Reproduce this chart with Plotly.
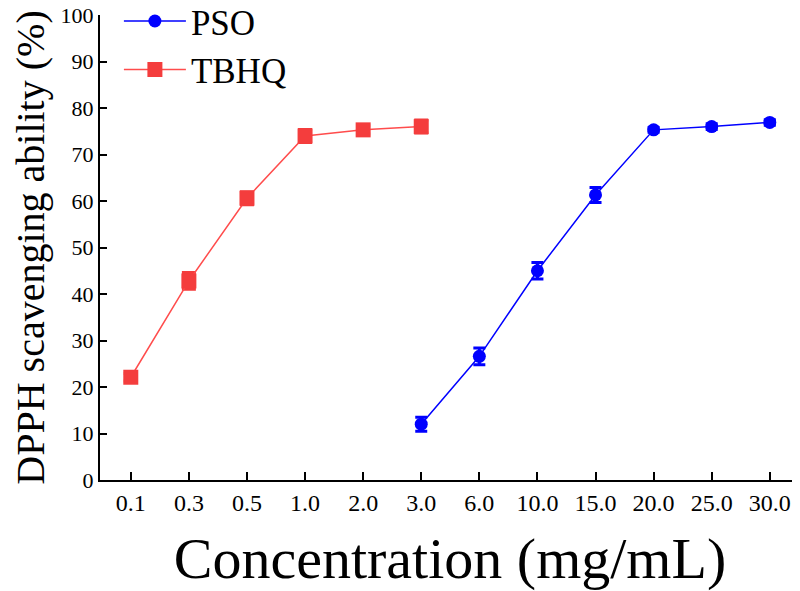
import plotly.graph_objects as go

categories = ["0.1", "0.3", "0.5", "1.0", "2.0", "3.0", "6.0", "10.0", "15.0", "20.0", "25.0", "30.0"]

tbhq_x = ["0.1", "0.3", "0.5", "1.0", "2.0", "3.0"]
tbhq_y = [22.1, 42.8, 60.6, 74.0, 75.3, 76.0]
tbhq_err = [0.8, 1.8, 1.4, 1.4, 0.9, 1.4]

pso_x = ["3.0", "6.0", "10.0", "15.0", "20.0", "25.0", "30.0"]
pso_y = [12.0, 26.6, 45.0, 61.3, 75.3, 76.0, 76.9]
pso_err = [1.5, 1.8, 1.8, 1.6, 0.5, 0.6, 0.6]

y_ticks = [0, 10, 20, 30, 40, 50, 60, 70, 80, 90, 100]

serif = "Liberation Serif, Times New Roman, serif"

fig = go.Figure()
fig.add_trace(go.Scatter(
    x=pso_x, y=pso_y, name="PSO", mode="lines+markers", legendgroup="a",
    line=dict(color="#0000FF", width=1.5),
    marker=dict(symbol="circle", size=13, color="#0000FF"),
    error_y=dict(type="data", array=pso_err, color="#0000FF", thickness=3, width=6),
))
fig.add_trace(go.Scatter(
    x=tbhq_x, y=tbhq_y, name="TBHQ", mode="lines+markers", legendgroup="b",
    line=dict(color="#FF4C4C", width=1.5),
    marker=dict(symbol="square", size=15, color="#F43D3D"),
    error_y=dict(type="data", array=tbhq_err, color="#F43D3D", thickness=3, width=7),
))

# page body has an 8px margin, so the figure is offset by (8, 8)
fig.update_layout(
    width=792, height=583,
    margin=dict(l=92, r=0, t=7, b=111, autoexpand=False),
    paper_bgcolor="white", plot_bgcolor="white",
    font=dict(family=serif, color="black"),
    showlegend=True,
    legend=dict(x=0.027, y=1.050, xanchor="left", yanchor="top",
                font=dict(size=35, family=serif), bgcolor="rgba(0,0,0,0)",
                tracegroupgap=0, itemwidth=62),
    xaxis=dict(type="category", categoryorder="array", categoryarray=categories,
               range=[-0.53, 11.52], showline=True, linecolor="black", linewidth=2,
               ticks="inside", ticklen=8, tickwidth=1.5, tickcolor="black",
               showgrid=False, zeroline=False, automargin=False,
               tickfont=dict(size=24, family=serif),
               title=dict(text="Concentration (mg/mL)", font=dict(size=58, family=serif), standoff=25)),
    yaxis=dict(range=[0, 100], tickvals=y_ticks, showline=True, linecolor="black", linewidth=2,
               ticks="inside", ticklen=7, tickwidth=1.5, tickcolor="black",
               showgrid=False, zeroline=False, automargin=False, ticklabeloverflow="allow",
               tickfont=dict(size=22, family=serif),
               title=dict(text="DPPH scavenging ability (%)", font=dict(size=40, family=serif), standoff=27)),
)

fig.write_html("out.html")
